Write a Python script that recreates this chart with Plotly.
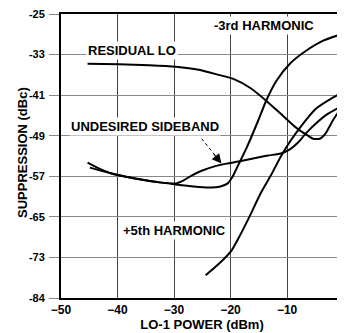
import plotly.graph_objects as go

# LO-1 power (dBm) and suppression (dBc, on the chart's evenly spaced scale)
residual_lo_x = [-45.3, -39.7, -34.4, -29.7, -25.6, -22.1, -19.5, -16.5, -13.7, -10.7, -8.4, -6.3, -5.4, -4.2, -3.2, -1.9, -0.2]
residual_lo_y = [-34.8, -34.9, -35.1, -35.4, -36.0, -37.0, -37.8, -39.6, -42.1, -45.1, -47.4, -49.0, -49.6, -49.6, -48.6, -46.0, -43.1]

third_x = [-44.9, -40.9, -36.1, -32.6, -29.7, -26.5, -23.9, -21.8, -20.5, -19.7, -18.6, -17.2, -15.1, -13.7, -11.9, -9.5, -6.7, -3.7, -0.2]
third_y = [-55.3, -56.5, -57.6, -58.2, -58.6, -59.0, -59.2, -59.0, -58.4, -57.2, -54.7, -51.5, -46.0, -42.1, -38.2, -34.8, -32.3, -30.3, -28.9]

sideband_x = [-45.3, -43.2, -40.9, -36.1, -32.6, -29.7, -28.3, -26.8, -25.1, -23.0, -20.7, -18.6, -16.0, -13.3, -11.1, -9.5, -8.1, -6.7, -4.9, -2.8, -0.2]
sideband_y = [-54.3, -55.5, -56.5, -57.6, -58.2, -58.4, -57.8, -56.8, -55.9, -55.1, -54.5, -54.1, -53.5, -52.9, -52.5, -51.7, -50.4, -48.6, -46.6, -44.7, -43.1]

fifth_x = [-24.4, -22.1, -19.8, -18.3, -16.8, -14.6, -12.8, -11.1, -9.5, -7.7, -4.9, -1.9, -0.2]
fifth_y = [-76.5, -74.3, -71.6, -68.6, -65.3, -60.2, -56.7, -53.1, -50.2, -47.4, -43.7, -41.5, -40.5]

x_ticks = [-50, -40, -30, -20, -10, 0]
y_tickvals = [-25, -33, -41, -49, -57, -65, -73, -81]
y_ticktext = ["-25", "-33", "-41", "-49", "-57", "-65", "-73", "-84"]

FONT = "Liberation Sans, Arial, Helvetica, sans-serif"

fig = go.Figure()
for xs, ys in [(residual_lo_x, residual_lo_y), (third_x, third_y),
               (sideband_x, sideband_y), (fifth_x, fifth_y)]:
    fig.add_trace(go.Scatter(x=xs, y=ys, mode="lines",
                             line=dict(color="black", width=2, shape="spline", smoothing=0.6),
                             showlegend=False, hoverinfo="skip"))

labels = [
    ("-3rd HARMONIC", -14.0, -27.3),
    ("RESIDUAL LO", -37.4, -32.2),
    ("UNDESIRED SIDEBAND", -35.1, -47.2),
    ("+5th HARMONIC", -30.0, -67.7),
]
for txt, x, y in labels:
    fig.add_annotation(x=x, y=y, text=txt, showarrow=False,
                       font=dict(family=FONT, size=13, color="black", weight="bold"),
                       bgcolor="white", borderpad=1)

# dotted shaft + solid head of the sideband pointer
fig.add_shape(type="line", x0=-25.1, y0=-49.6, x1=-22.4, y1=-53.3,
              line=dict(color="black", width=1, dash="dot"))
fig.add_annotation(x=-21.6, y=-54.5, ax=-9, ay=-11, text="", showarrow=True,
                   arrowhead=2, arrowsize=1.6, arrowwidth=1.2, arrowcolor="black")

# y-axis title placed close to the tick labels, as in the reference
fig.add_annotation(text="SUPPRESSION (dBc)", xref="paper", yref="paper", x=0, y=0.5,
                   xanchor="center", yanchor="middle", xshift=-39, yshift=3,
                   textangle=-90, showarrow=False,
                   font=dict(family=FONT, size=13, color="black", weight="bold"))

fig.update_xaxes(range=[-50, -0.1], tickvals=x_ticks, ticks="", showgrid=True,
                 gridcolor="#444", gridwidth=1, showline=True, linecolor="black",
                 linewidth=2, mirror=True, zeroline=False,
                 tickfont=dict(family=FONT, size=12, color="black", weight="bold"),
                 title=dict(text="LO-1 POWER (dBm)", standoff=2,
                            font=dict(family=FONT, size=13, color="black", weight="bold")))
fig.update_yaxes(range=[-81, -25], tickvals=y_tickvals, ticktext=y_ticktext,
                 ticks="outside", ticklen=10, tickcolor="#888", showgrid=True,
                 gridcolor="#888", gridwidth=1, showline=True, linecolor="black",
                 linewidth=2, mirror=True, zeroline=False, ticklabelstandoff=2,
                 ticklabeloverflow="allow",
                 tickfont=dict(family=FONT, size=11, color="black", weight="bold"))

# the page body adds an 8px offset, so the figure is sized to fit the window
fig.update_layout(width=337, height=325, margin=dict(l=53, r=0, t=5, b=35),
                  plot_bgcolor="white", paper_bgcolor="white")
fig.write_html("out.html")
